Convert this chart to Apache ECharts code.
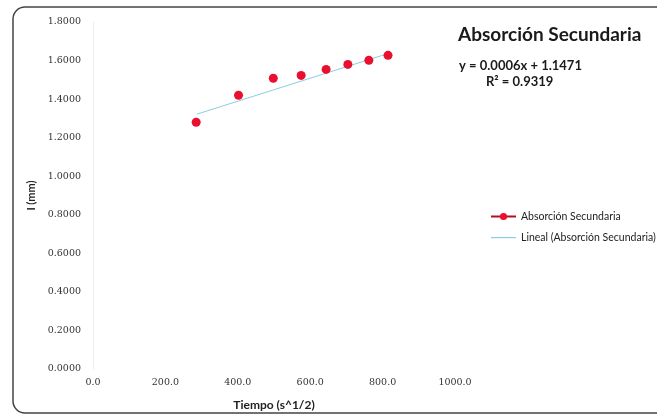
<!DOCTYPE html>
<html>
<head>
<meta charset="utf-8">
<script src="https://cdn.jsdelivr.net/npm/echarts@6/dist/echarts.min.js"></script>
<style>html,body{margin:0;padding:0;background:#fff}#c{width:657px;height:416px}</style>
</head>
<body>
<div id="c"></div>
<script>
var xValues = [285, 402, 498, 575, 644, 704, 762, 815];
var yValues = [1.280, 1.420, 1.508, 1.523, 1.554, 1.580, 1.601, 1.627];
var trendX = [287, 818];
var trendY = [1.322, 1.638];
var xTicks = [0, 200, 400, 600, 800, 1000];
var yTicks = [0, 0.2, 0.4, 0.6, 0.8, 1.0, 1.2, 1.4, 1.6, 1.8];
var seriesName = 'Absorción Secundaria';
var trendName = 'Lineal (Absorción Secundaria)';
var chartTitle = 'Absorción Secundaria';
var eqText = 'y = 0.0006x + 1.1471';
var r2Text = 'R² = 0.9319';
var xTitle = 'Tiempo (s^1/2)';
var yTitle = 'I (mm)';

var pts = xValues.map(function (x, i) { return [x, yValues[i]]; });
var trend = trendX.map(function (x, i) { return [x, trendY[i]]; });

var chart = echarts.init(document.getElementById('c'), null, {renderer: 'canvas'});
chart.setOption({
  backgroundColor: '#fff',
  animation: false,
  grid: {left: 93, right: 202, top: 22, bottom: 47, containLabel: false},
  xAxis: {
    type: 'value', min: xTicks[0], max: xTicks[xTicks.length - 1], interval: 200,
    name: xTitle, nameLocation: 'middle', nameGap: 30,
    nameTextStyle: {fontFamily: 'Lato', fontWeight: 'bold', fontSize: 12, color: '#222'},
    axisLine: {show: false}, axisTick: {show: false}, splitLine: {show: false},
    axisLabel: {formatter: function (v) { return v.toFixed(1); }, fontFamily: 'DejaVu Serif', fontSize: 9.5, color: '#333', margin: 9}
  },
  yAxis: {
    type: 'value', min: yTicks[0], max: yTicks[yTicks.length - 1], interval: 0.2,
    name: yTitle, nameLocation: 'middle', nameGap: 56, nameRotate: 90, nameMoveOverlap: false,
    nameTextStyle: {fontFamily: 'Lato', fontWeight: 'bold', fontSize: 11, color: '#222'},
    axisLine: {show: true, lineStyle: {color: '#eeeeee'}}, axisTick: {show: false}, splitLine: {show: false},
    axisLabel: {formatter: function (v) { return v.toFixed(4); }, fontFamily: 'DejaVu Serif', fontSize: 9.5, color: '#333', margin: 12}
  },
  legend: {
    orient: 'vertical', left: 490, top: 211, padding: 0, itemGap: 10, itemWidth: 25, itemHeight: 9,
    textStyle: {fontFamily: 'Lato', fontSize: 10.5, color: '#222'},
    data: [
      {name: seriesName, itemStyle: {color: '#e8102e'}, lineStyle: {color: '#b01020', width: 2, opacity: 1}},
      {name: trendName, icon: 'path://M0,0 M0,9 M0,4 L25,4 L25,5.2 L0,5.2 Z', itemStyle: {color: '#8ccde0'}}
    ]
  },
  series: [
    {
      name: seriesName, type: 'line', data: pts, symbol: 'circle', symbolSize: 9,
      itemStyle: {color: '#e8102e'}, lineStyle: {width: 0, color: '#e8102e', opacity: 0},
      z: 3
    },
    {
      name: trendName, type: 'line', data: trend, symbol: 'none',
      lineStyle: {width: 1, color: '#8ccde0'}, itemStyle: {color: '#8ccde0'}, z: 2
    }
  ],
  graphic: [
    {type: 'rect', shape: {x: 13, y: 7, width: 700, height: 406, r: 12}, style: {fill: 'none', stroke: '#444', lineWidth: 1.5}, silent: true},
    {type: 'text', left: 458, top: 25, style: {text: chartTitle, fontFamily: 'Lato', fontWeight: 'bold', fontSize: 19, fill: '#1a1a1a'}},
    {type: 'text', left: 459, top: 59, style: {text: eqText, fontFamily: 'Lato', fontWeight: 'bold', fontSize: 13, fill: '#1a1a1a'}},
    {type: 'text', left: 486, top: 75, style: {text: r2Text, fontFamily: 'Lato', fontWeight: 'bold', fontSize: 13, fill: '#1a1a1a'}}
  ]
});
</script>
</body>
</html>
